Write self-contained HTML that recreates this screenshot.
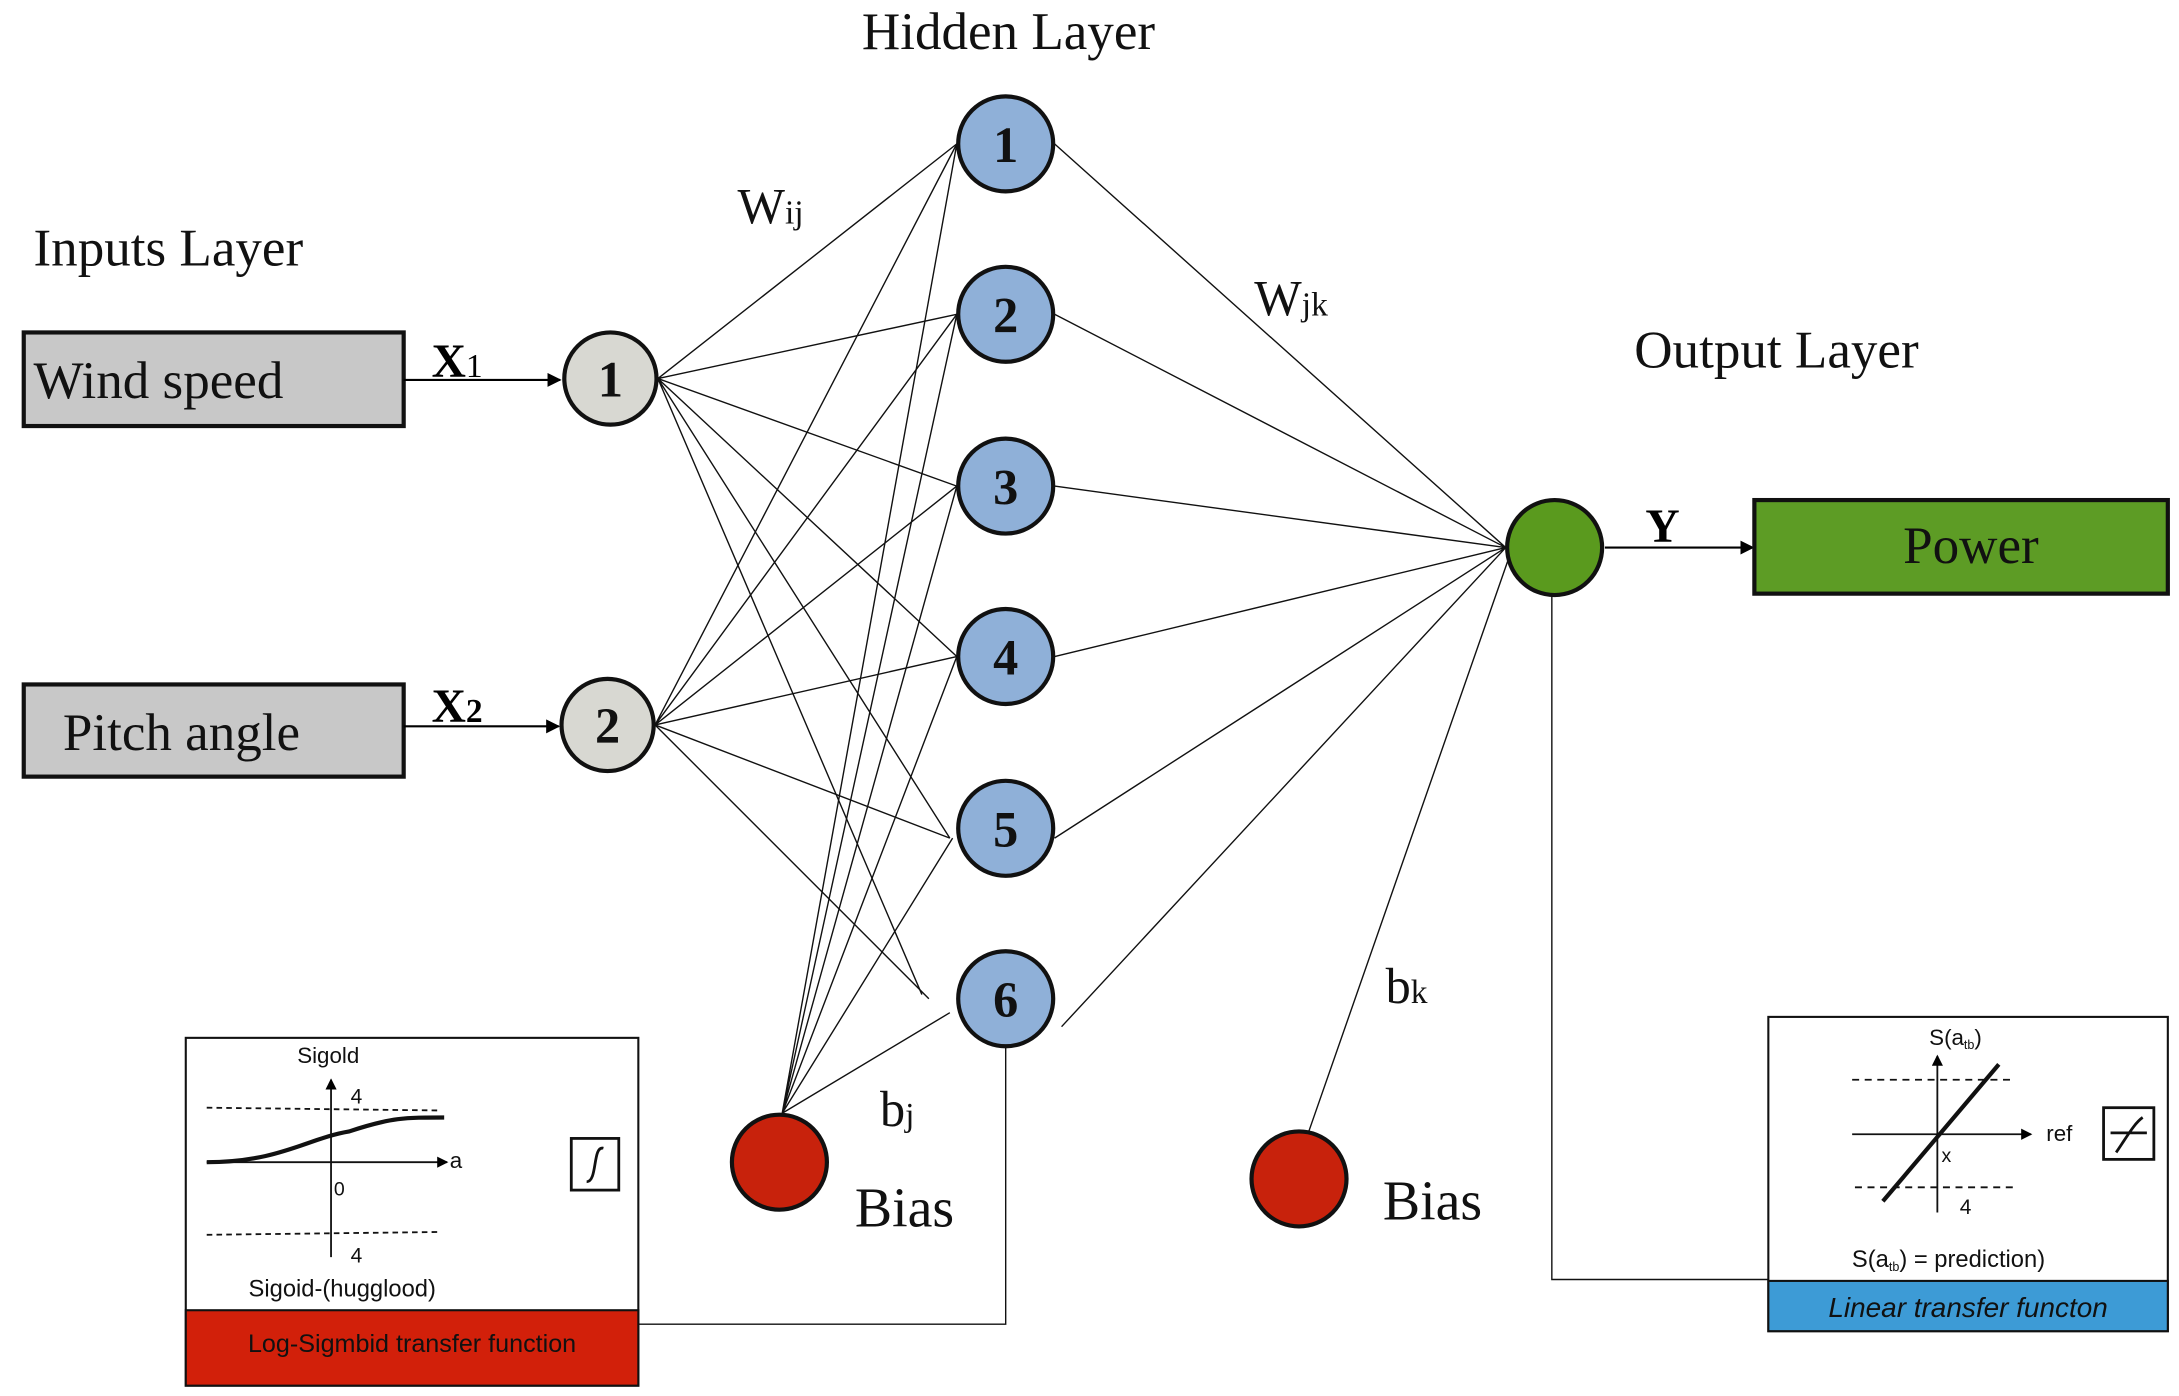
<!DOCTYPE html>
<html><head><meta charset="utf-8"><style>html,body{margin:0;padding:0;background:#fff}svg{display:block}</style></head>
<body>
<svg width="2179" height="1396" viewBox="0 0 1560 999.4" preserveAspectRatio="none" xmlns="http://www.w3.org/2000/svg">
<defs><marker id="ah" markerWidth="10" markerHeight="10" refX="9" refY="5" orient="auto" markerUnits="userSpaceOnUse"><path d="M0,0 L10,5 L0,10z" fill="#000"/></marker>
<marker id="as" markerWidth="8" markerHeight="8" refX="7" refY="4" orient="auto" markerUnits="userSpaceOnUse"><path d="M0,0 L8,4 L0,8z" fill="#000"/></marker></defs>
<g font-family="Liberation Serif, serif" fill="#111">
<text x="722" y="35" font-size="38" text-anchor="middle">Hidden Layer</text>
<text x="24" y="190" font-size="38">Inputs Layer</text>
<text x="1170" y="263" font-size="38">Output Layer</text>
<text x="528" y="160" font-size="36">W<tspan font-size="24">ij</tspan></text>
<text x="898" y="226" font-size="36">W<tspan font-size="24">jk</tspan></text>
<text x="630" y="806" font-size="36">b<tspan font-size="24">j</tspan></text>
<text x="992" y="718" font-size="36">b<tspan font-size="24">k</tspan></text>
<text x="612" y="878" font-size="40">Bias</text>
<text x="990" y="873" font-size="40">Bias</text>
</g>
<rect x="17" y="238" width="272" height="67" fill="#c8c8c8" stroke="#111" stroke-width="3"/>
<text x="24" y="285" font-family="Liberation Serif, serif" font-size="38" fill="#111">Wind speed</text>
<rect x="17" y="490" width="272" height="66" fill="#c8c8c8" stroke="#111" stroke-width="3"/>
<text x="45" y="537" font-family="Liberation Serif, serif" font-size="38" fill="#111">Pitch angle</text>
<text x="309" y="270" font-family="Liberation Serif, serif" font-size="34" font-weight="bold">X<tspan font-size="24" font-weight="normal">1</tspan></text>
<text x="309" y="517" font-family="Liberation Serif, serif" font-size="34" font-weight="bold">X<tspan font-size="24" font-weight="bold">2</tspan></text>
<line x1="289" y1="272" x2="401" y2="272" stroke="#000" stroke-width="1.5" marker-end="url(#ah)"/>
<line x1="289" y1="520" x2="400" y2="520" stroke="#000" stroke-width="1.5" marker-end="url(#ah)"/>
<g stroke="#111" stroke-width="1" fill="none">
<path d="M471,271 L685,103 M471,271 L685,225 M471,271 L685,348 M471,271 L685,470 M471,271 L680,600 M471,271 L660,712"/>
<path d="M469,519 L685,103 M469,519 L685,225 M469,519 L685,348 M469,519 L685,470 M469,519 L680,600 M469,519 L665,715"/>
<path d="M560,797 L685,103 M560,797 L685,225 M560,797 L685,348 M560,797 L685,470 M560,797 L682,600 M560,797 L680,725"/>
<path d="M755,103 L1078,392 M755,225 L1078,392 M755,348 L1078,392 M755,470 L1078,392 M755,600 L1078,392 M760,735 L1078,392"/>
<path d="M937,810 L1080,400"/>
<path d="M720,750 L720,948 L457,948"/>
<path d="M1111,425 L1111,916 L1266,916"/>
</g>
<line x1="1149" y1="392" x2="1255" y2="392" stroke="#000" stroke-width="1.5" marker-end="url(#ah)"/>
<text x="1178" y="388" font-family="Liberation Serif, serif" font-size="34" font-weight="bold">Y</text>
<rect x="1256" y="358" width="296" height="67" fill="#5d9c25" stroke="#111" stroke-width="3"/>
<text x="1411" y="403" text-anchor="middle" font-family="Liberation Serif, serif" font-size="38" fill="#111">Power</text>
<g stroke="#111" stroke-width="3">
<circle cx="437" cy="271" r="33" fill="#d8d8d2"/>
<circle cx="435" cy="519" r="33" fill="#d8d8d2"/>
<circle cx="720" cy="103" r="34" fill="#8fb0d8"/>
<circle cx="720" cy="225" r="34" fill="#8fb0d8"/>
<circle cx="720" cy="348" r="34" fill="#8fb0d8"/>
<circle cx="720" cy="470" r="34" fill="#8fb0d8"/>
<circle cx="720" cy="593" r="34" fill="#8fb0d8"/>
<circle cx="720" cy="715" r="34" fill="#8fb0d8"/>
<circle cx="1113" cy="392" r="34" fill="#5a9a1e"/>
<circle cx="558" cy="832" r="34" fill="#c8220c"/>
<circle cx="930" cy="844" r="34" fill="#c8220c"/>
</g>
<g font-family="Liberation Serif, serif" font-weight="bold" font-size="36" text-anchor="middle" fill="#111">
<text x="437" y="284">1</text><text x="435" y="532">2</text>
<text x="720" y="116">1</text><text x="720" y="238">2</text><text x="720" y="361">3</text>
<text x="720" y="483">4</text><text x="720" y="606">5</text><text x="720" y="728">6</text>
</g>
<rect x="133" y="743" width="324" height="249" fill="#fff" stroke="#111" stroke-width="1.5"/>
<rect x="133" y="938" width="324" height="54" fill="#d2200a" stroke="#111" stroke-width="1.5"/>
<g font-family="Liberation Sans, sans-serif" fill="#111">
<text x="235" y="761" font-size="16" text-anchor="middle">Sigold</text>
<text x="251" y="790" font-size="15">4</text>
<text x="239" y="856" font-size="14">0</text>
<text x="251" y="904" font-size="15">4</text>
<text x="322" y="836" font-size="16">a</text>
<text x="245" y="928" font-size="17" text-anchor="middle">Sigoid-(hugglood)</text>
<text x="295" y="968" font-size="18" text-anchor="middle">Log-Sigmbid transfer function</text>
</g>
<g stroke="#111" fill="none">
<line x1="237" y1="900" x2="237" y2="773" stroke-width="1.3" marker-end="url(#as)"/>
<line x1="148" y1="832" x2="320" y2="832" stroke-width="1.3" marker-end="url(#as)"/>
<line x1="148" y1="793" x2="315" y2="795" stroke-width="1.3" stroke-dasharray="4,3"/>
<line x1="148" y1="884" x2="313" y2="882" stroke-width="1.3" stroke-dasharray="4,3"/>
<path d="M148,832 C200,832 220,815 250,810 C280,800 290,800 318,800" stroke-width="3"/>
<rect x="409" y="815" width="34" height="37" stroke-width="2"/>
<path d="M420,846 C428,846 424,820 432,822" stroke-width="2"/>
</g>
<rect x="1266" y="728" width="286" height="225" fill="#fff" stroke="#111" stroke-width="1.5"/>
<rect x="1266" y="917" width="286" height="36" fill="#3d9bd6" stroke="#111" stroke-width="1.5"/>
<g font-family="Liberation Sans, sans-serif" fill="#111">
<text x="1400" y="748" font-size="16" text-anchor="middle">S(a<tspan font-size="9" dy="3">tb</tspan><tspan dy="-3">)</tspan></text>
<text x="1390" y="832" font-size="14">x</text>
<text x="1403" y="869" font-size="15">4</text>
<text x="1465" y="817" font-size="16">ref</text>
<text x="1395" y="907" font-size="17" text-anchor="middle">S(a<tspan font-size="9" dy="3">tb</tspan><tspan dy="-3">) = prediction)</tspan></text>
<text x="1409" y="943" font-size="20" font-style="italic" text-anchor="middle">Linear transfer functon</text>
</g>
<g stroke="#111" fill="none">
<line x1="1387" y1="868" x2="1387" y2="756" stroke-width="1.3" marker-end="url(#as)"/>
<line x1="1326" y1="812" x2="1454" y2="812" stroke-width="1.3" marker-end="url(#as)"/>
<line x1="1326" y1="773" x2="1443" y2="773" stroke-width="1.3" stroke-dasharray="5,4"/>
<line x1="1328" y1="850" x2="1443" y2="850" stroke-width="1.3" stroke-dasharray="5,4"/>
<line x1="1348" y1="860" x2="1431" y2="762" stroke-width="3"/>
<rect x="1506" y="793" width="36" height="37" stroke-width="2"/>
<path d="M1511,811 L1537,811 M1515,825 C1522,815 1528,804 1534,800" stroke-width="2"/>
</g>
</svg>
</body></html>
